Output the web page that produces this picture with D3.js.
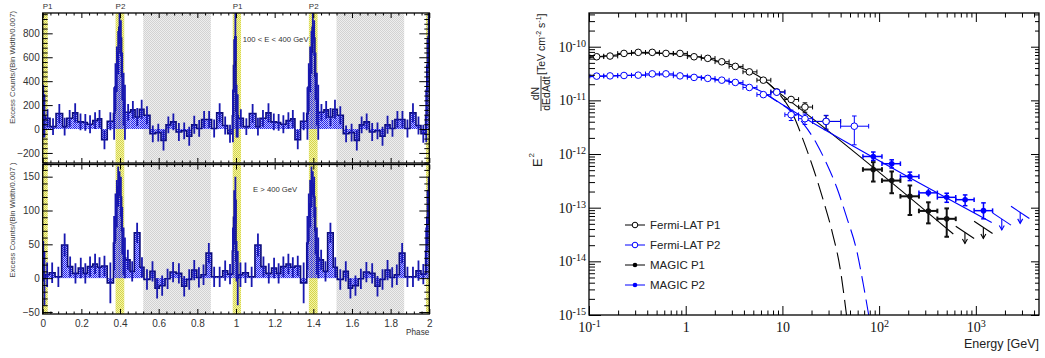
<!DOCTYPE html>
<html><head><meta charset="utf-8">
<script src="https://cdn.jsdelivr.net/npm/d3@7"></script>
<style>
html,body{margin:0;padding:0;background:#fff;}
svg{display:block;}
</style></head><body>
<svg id="c" width="1045" height="358"></svg>
<script>
// ---------------- LEFT: phaseograms (one period, repeated twice) ----------------
const phaseTicks = [0,0.2,0.4,0.6,0.8,1,1.2,1.4,1.6,1.8,2];
const topYTicks = [-200,0,200,400,600,800];
const botYTicks = [-50,0,50,100,150];
const p1Bands = [[0,0.026],[0.983,1.026],[1.983,2]];
const p2Bands = [[0.377,0.422],[1.377,1.422]];
const offBands = [[0.52,0.87],[1.52,1.87]];
const peakLabels = ["P1","P2","P1","P2"];
const peakLabelPhase = [0,0.377,0.983,1.377];

const topEdges = [0,0.006,0.012,0.038,0.069,0.103,0.124,0.155,0.181,0.210,0.231,0.259,0.283,0.305,0.334,0.366,0.373,0.380,0.387,0.394,0.401,0.408,0.415,0.422,0.429,0.455,0.478,0.500,0.524,0.555,0.584,0.612,0.638,0.662,0.690,0.719,0.745,0.771,0.797,0.822,0.848,0.874,0.900,0.931,0.957,0.981,0.987,0.994,1.0];
const topVals = [150,110,90,20,130,20,90,135,60,55,40,70,85,-90,65,130,350,500,640,850,760,440,250,140,140,160,100,165,115,-40,-30,-95,35,60,-25,-15,-60,35,5,80,80,5,135,30,-40,110,530,770];
const topErr = [220,180,75,70,80,75,70,80,70,70,75,70,75,80,75,220,200,190,180,130,150,200,220,230,70,75,75,80,75,70,75,85,70,70,75,70,80,75,70,70,70,75,80,75,75,220,220,200];

const botEdges = [0,0.006,0.012,0.034,0.064,0.098,0.129,0.155,0.184,0.21,0.231,0.259,0.283,0.305,0.334,0.366,0.373,0.380,0.387,0.394,0.401,0.408,0.415,0.422,0.429,0.452,0.474,0.503,0.524,0.555,0.581,0.603,0.633,0.659,0.69,0.719,0.745,0.771,0.797,0.819,0.845,0.874,0.9,0.931,0.957,0.981,0.987,0.994,1.0];
const botVals = [25,0,5,8,2,49,17,7,15,7,17,21,16,18,-7,52,90,110,135,140,120,70,40,30,27,10,67,16,-2,10,-15,-11,-1,9,7,-12,-2,12,1,5,37,2,2,11,6,40,90,115];
const botErr = [30,40,18,15,15,17,15,15,15,15,15,15,15,15,30,40,35,35,30,18,30,35,35,30,15,15,15,15,15,15,15,15,15,15,15,15,15,15,15,15,15,15,15,15,15,35,40,35];

// ---------------- RIGHT: SED ----------------
const fermiE = [0.120,0.165,0.230,0.323,0.451,0.625,0.873,1.22,1.69,2.36,3.26,4.55,6.35,8.73,12.3,17.1,28.3,55.4];
const fermiEdges = [0.102,0.142,0.198,0.275,0.384,0.535,0.745,1.04,1.45,2.01,2.81,3.91,5.45,7.59,10.6,14.7,20.5,40,78];
const fermiP1 = [6.5e-11,6.7e-11,7.5e-11,7.85e-11,7.85e-11,7.5e-11,7.5e-11,6.5e-11,6.07e-11,5.24e-11,4.3e-11,3.4e-11,2.38e-11,1.44e-11,1.04e-11,7.5e-12,4.05e-12];
const fermiP1Err = [0.02,0.02,0.02,0.02,0.02,0.02,0.02,0.03,0.03,0.03,0.04,0.05,0.06,0.12,0.15,0.2,0.28];
const fermiP2 = [2.83e-11,2.86e-11,2.91e-11,2.95e-11,3.12e-11,3.12e-11,2.86e-11,2.68e-11,2.57e-11,2.38e-11,2.16e-11,1.74e-11,1.28e-11,1.42e-11,5.4e-12,4.56e-12,4.05e-12,3.3e-12];
const fermiP2Err = [0.02,0.02,0.02,0.02,0.02,0.02,0.03,0.03,0.03,0.04,0.05,0.06,0.08,0.15,0.22,0.22,0.3,0.55];

const magicE = [87,135,208,323,500,775,1200];
const magicEdges = [68,107,166,258,400,620,960,1490,2310,3580];
const magicP1 = [5.15e-13,3.2e-13,1.63e-13,8.7e-14,6.2e-14];
const magicP1Lo = [3.07e-13,1.86e-13,7.31e-14,5.1e-14,2.87e-14];
const magicP1Hi = [7.06e-13,4.73e-13,2.59e-13,1.26e-13,9.7e-14];
const magicP2 = [9.0e-13,6.6e-13,3.8e-13,1.89e-13,1.56e-13,1.41e-13,8.8e-14];
const magicP2Lo = [7.6e-13,5.5e-13,3.2e-13,1.61e-13,1.26e-13,1.09e-13,6.2e-14];
const magicP2Hi = [1.09e-12,7.8e-13,4.6e-13,2.24e-13,1.86e-13,1.73e-13,1.23e-13];
const ulP1Bin = [5,6];
const ulP1 = [3.46e-14,4.29e-14];
const ulP2Bin = [7,8];
const ulP2 = [6.16e-14,8.18e-14];
const ulIndex = -1.2;

const p1FitE = [0.1,0.165,0.32,0.62,1.2,2.36,4.5,6.3,8.8,12.0,585];
const p1FitF = [6.28e-11,6.84e-11,7.69e-11,7.53e-11,6.7e-11,5.17e-11,3.51e-11,2.49e-11,1.48e-11,9.7e-12,3.23e-14];
const p2FitE = [0.1,0.32,0.62,1.2,2.36,4.5,6.3,8.8,12.0,1460];
const p2FitF = [2.77e-11,2.95e-11,3.0e-11,2.77e-11,2.38e-11,1.84e-11,1.42e-11,9.6e-12,6.83e-12,5.32e-14];
const p1CutE = [6.3,8.8,12.96,16.45,20.87,26.5,33.1,39.4,46];
const p1CutF = [2.49e-11,1.46e-11,5.27e-12,1.80e-12,5.38e-13,1.36e-13,3.23e-14,7.66e-15,1e-15];
const p2CutE = [6.3,8.8,11.98,16.45,22.6,28.7,36.4,46.2,58.7,68.6,78];
const p2CutF = [1.42e-11,9.6e-12,6.54e-12,3.69e-12,1.56e-12,6.58e-13,2.40e-13,6.6e-14,1.57e-14,3.74e-15,1e-15];

const xTickE = [0.1,1,10,100,1000];
const yTickF = [1e-15,1e-14,1e-13,1e-12,1e-11,1e-10];
const legendLabels = ["Fermi-LAT P1","Fermi-LAT P2","MAGIC P1","MAGIC P2"];
const legendColors = ["#000","#0000ff","#000","#0000ff"];
const legendFilled = [false,false,true,true];

// ================= drawing =================
const svg = d3.select("#c");
const defs = svg.append("defs");
function checker(id, c1, c2){
  const p = defs.append("pattern").attr("id",id).attr("width",2).attr("height",2).attr("patternUnits","userSpaceOnUse");
  if (c2) p.append("rect").attr("width",2).attr("height",2).attr("fill",c2);
  p.append("rect").attr("x",0).attr("y",0).attr("width",1).attr("height",1).attr("fill",c1);
  p.append("rect").attr("x",1).attr("y",1).attr("width",1).attr("height",1).attr("fill",c1);
}
checker("yel","#d6d64a","#f3f3a8");
checker("gry","#d2d2d2","#eeeeee");
checker("blu","#2424f0","rgba(110,110,255,0.45)");

const LX0 = 42.7, LX1 = 429.3;
const xL = d3.scaleLinear().domain([0,2]).range([LX0,LX1]);
const leftFont = "Liberation Sans, Arial, sans-serif";

function phasePanel(id, y0, y1, yDomain, edges, vals, errs, yTicks, yMinor, ytitle, label, labelBase, showXLabels){
  const y = d3.scaleLinear().domain(yDomain).range([y1,y0]);
  const g = svg.append("g").attr("font-family", leftFont);
  defs.append("clipPath").attr("id",id).append("rect").attr("x",LX0).attr("y",y0).attr("width",LX1-LX0).attr("height",y1-y0);
  const pg = g.append("g").attr("clip-path",`url(#${id})`);
  pg.selectAll("rect.off").data(offBands).join("rect").attr("x",d=>xL(d[0])).attr("width",d=>xL(d[1])-xL(d[0])).attr("y",y0).attr("height",y1-y0).attr("fill","url(#gry)");
  pg.selectAll("rect.p").data(p1Bands.concat(p2Bands)).join("rect").attr("x",d=>xL(d[0])).attr("width",d=>xL(d[1])-xL(d[0])).attr("y",y0).attr("height",y1-y0).attr("fill","url(#yel)");
  const bins = [];
  [0,1].forEach(off=>vals.forEach((v,i)=>bins.push({x0:edges[i]+off,x1:edges[i+1]+off,v:v,e:errs[i]})));
  pg.append("g").selectAll("rect").data(bins).join("rect")
    .attr("x",d=>xL(d.x0)).attr("width",d=>xL(d.x1)-xL(d.x0))
    .attr("y",d=>y(Math.max(0,d.v))).attr("height",d=>Math.abs(y(d.v)-y(0)))
    .attr("fill","url(#blu)");
  const pts = bins.map(d=>[d.x0,d.v]); pts.push([bins[bins.length-1].x1, bins[bins.length-1].v]);
  pg.append("path").datum(pts).attr("d",d3.line().x(d=>xL(d[0])).y(d=>y(d[1])).curve(d3.curveStepAfter))
    .attr("fill","none").attr("stroke","#0c0c7a").attr("stroke-width",1.6);
  pg.append("g").selectAll("line").data(bins).join("line")
    .attr("x1",d=>xL((d.x0+d.x1)/2)).attr("x2",d=>xL((d.x0+d.x1)/2))
    .attr("y1",d=>y(d.v-d.e)).attr("y2",d=>y(d.v+d.e))
    .attr("stroke","#1818b0").attr("stroke-width",1.8);
  // axes
  const majorMinorY = d3.range(Math.ceil(yDomain[0]/yMinor)*yMinor, yDomain[1], yMinor).filter(v=>!yTicks.includes(v));
  const minorX = d3.range(0,2.0001,0.04).map(v=>+v.toFixed(2)).filter(v=>!phaseTicks.some(t=>Math.abs(t-v)<1e-6));
  const ax = g.append("g").attr("font-size",8.2).attr("fill","#333");
  ax.append("g").attr("transform",`translate(${LX0},0)`).call(d3.axisLeft(y).tickValues(yTicks).tickSizeInner(-10).tickSizeOuter(0).tickPadding(3));
  ax.append("g").attr("transform",`translate(${LX0},0)`).call(d3.axisLeft(y).tickValues(majorMinorY).tickSizeInner(-5).tickSizeOuter(0).tickFormat(""));
  ax.append("g").attr("transform",`translate(${LX1},0)`).call(d3.axisRight(y).tickValues(yTicks).tickSizeInner(-10).tickSizeOuter(0).tickFormat(""));
  ax.append("g").attr("transform",`translate(${LX1},0)`).call(d3.axisRight(y).tickValues(majorMinorY).tickSizeInner(-5).tickSizeOuter(0).tickFormat(""));
  ax.append("g").attr("transform",`translate(0,${y1})`).call(d3.axisBottom(xL).tickValues(phaseTicks).tickSizeInner(-5).tickSizeOuter(0).tickPadding(5.5).tickFormat(showXLabels?d3.format("~g"):""));
  ax.append("g").attr("transform",`translate(0,${y1})`).call(d3.axisBottom(xL).tickValues(minorX).tickSizeInner(-2.5).tickSizeOuter(0).tickFormat(""));
  ax.append("g").attr("transform",`translate(0,${y0})`).call(d3.axisTop(xL).tickValues(phaseTicks).tickSizeInner(-5).tickSizeOuter(0).tickFormat(""));
  ax.append("g").attr("transform",`translate(0,${y0})`).call(d3.axisTop(xL).tickValues(minorX).tickSizeInner(-2.5).tickSizeOuter(0).tickFormat(""));
  ax.selectAll(".domain").remove();
  ax.selectAll("line").attr("stroke","#000");
  ax.selectAll("text").attr("fill","#333").attr("font-family",leftFont);
  g.append("rect").attr("x",LX0).attr("y",y0).attr("width",LX1-LX0).attr("height",y1-y0).attr("fill","none").attr("stroke","#000").attr("stroke-width",1.3);
  g.append("text").attr("transform",`translate(15,${y0-2}) rotate(-90)`).attr("text-anchor","end").attr("font-size",7.7).attr("fill","#444").text(ytitle);
  g.append("text").attr("x",label.x).attr("y",labelBase).attr("font-size",7.7).attr("fill","#333").text(label.t);
  return {y:y, g:g};
}

phasePanel("clipTop",13,163,[-284,970],topEdges,topVals,topErr,topYTicks,40,"Excess Counts/(Bin Width/0.007)",{t:"100 < E < 400 GeV",x:242.7},41.5,false);
phasePanel("clipBot",164.5,314,[-53,168],botEdges,botVals,botErr,botYTicks,10,"Excess Counts/(Bin Width/0.007 )",{t:"E > 400 GeV",x:253},192.3,true);

svg.append("g").attr("font-family",leftFont).attr("font-size",8).attr("fill","#333")
  .selectAll("text").data(peakLabels).join("text")
  .attr("x",(d,i)=>xL(peakLabelPhase[i])).attr("y",8.6).text(d=>d);
svg.append("text").attr("x",LX1).attr("y",335).attr("text-anchor","end").attr("font-family",leftFont).attr("font-size",8.2).attr("fill","#333").text("Phase");

// ---------------- right panel ----------------
const RX0 = 589, RX1 = 1039, RY0 = 13, RY1 = 315;
const xR = d3.scaleLog().domain([0.1,4500]).range([RX0,RX1]);
const yR = d3.scaleLog().domain([1e-15,4.25e-10]).range([RY1,RY0]);
const gR = svg.append("g");
defs.append("clipPath").attr("id","clipR").append("rect").attr("x",RX0).attr("y",RY0).attr("width",RX1-RX0).attr("height",RY1-RY0);
const pR = gR.append("g").attr("clip-path","url(#clipR)");

const lineGen = d3.line().x(d=>xR(d[0])).y(d=>yR(d[1])).curve(d3.curveMonotoneX);
function fitLine(E,F,color,dash){
  pR.append("path").datum(d3.zip(E,F)).attr("d",lineGen).attr("fill","none").attr("stroke",color).attr("stroke-width",1.1).attr("stroke-dasharray",dash||null);
}
fitLine(p1CutE,p1CutF,"#000","17,7");
fitLine(p2CutE,p2CutF,"#0000ff","17,7");
fitLine(p1FitE,p1FitF,"#000");
fitLine(p2FitE,p2FitF,"#0000ff");

function errorPoints(pts,color,sw,r,filled){
  const g = pR.append("g").attr("stroke",color).attr("stroke-width",sw);
  g.selectAll("line.h").data(pts).join("line").attr("x1",d=>xR(d.elo)).attr("x2",d=>xR(d.ehi)).attr("y1",d=>yR(d.f)).attr("y2",d=>yR(d.f));
  g.selectAll("line.v").data(pts).join("line").attr("class","v").attr("x1",d=>xR(d.e)).attr("x2",d=>xR(d.e)).attr("y1",d=>yR(d.flo)).attr("y2",d=>yR(d.fhi));
  const cap = 2.3;
  ["elo","ehi"].forEach(k=>g.selectAll("line.c"+k).data(pts).join("line").attr("class","c"+k).attr("x1",d=>xR(d[k])).attr("x2",d=>xR(d[k])).attr("y1",d=>yR(d.f)-cap).attr("y2",d=>yR(d.f)+cap));
  ["flo","fhi"].forEach(k=>g.selectAll("line.c"+k).data(pts.filter(d=>Math.abs(yR(d.flo)-yR(d.fhi))>8)).join("line").attr("class","c"+k).attr("x1",d=>xR(d.e)-cap).attr("x2",d=>xR(d.e)+cap).attr("y1",d=>yR(d[k])).attr("y2",d=>yR(d[k])));
  g.selectAll("circle").data(pts).join("circle").attr("cx",d=>xR(d.e)).attr("cy",d=>yR(d.f)).attr("r",r)
    .attr("fill",filled?color:"#fff").attr("stroke-width",filled?0:1);
}
errorPoints(fermiP1.map((f,i)=>({e:fermiE[i],f:f,elo:fermiEdges[i],ehi:fermiEdges[i+1],flo:f*(1-fermiP1Err[i]),fhi:f*(1+fermiP1Err[i])})),"#000",1,3.3,false);
errorPoints(fermiP2.map((f,i)=>({e:fermiE[i],f:f,elo:fermiEdges[i],ehi:fermiEdges[i+1],flo:f*(1-fermiP2Err[i]),fhi:f*(1+fermiP2Err[i])})),"#0000ff",1,3.3,false);
errorPoints(magicP1.map((f,i)=>({e:magicE[i],f:f,elo:magicEdges[i],ehi:magicEdges[i+1],flo:magicP1Lo[i],fhi:magicP1Hi[i]})),"#111",2,2.8,true);
errorPoints(magicP2.map((f,i)=>({e:magicE[i],f:f,elo:magicEdges[i],ehi:magicEdges[i+1],flo:magicP2Lo[i],fhi:magicP2Hi[i]})),"#0000ff",1.5,2.8,true);

function upperLimits(bins,vals,color){
  const g = pR.append("g").attr("stroke",color).attr("fill","none").attr("stroke-width",1.1);
  const d = bins.map((b,i)=>{const lo=magicEdges[b],hi=magicEdges[b+1],c=Math.sqrt(lo*hi);return {lo,hi,c,v:vals[i]};});
  g.selectAll("line.s").data(d).join("line").attr("class","s")
    .attr("x1",u=>xR(u.lo)).attr("y1",u=>yR(u.v*Math.pow(u.lo/u.c,ulIndex)))
    .attr("x2",u=>xR(u.hi)).attr("y2",u=>yR(u.v*Math.pow(u.hi/u.c,ulIndex)));
  g.selectAll("line.a").data(d).join("line").attr("class","a")
    .attr("x1",u=>xR(u.c)).attr("x2",u=>xR(u.c)).attr("y1",u=>yR(u.v)).attr("y2",u=>yR(u.v)+11);
  g.selectAll("path").data(d).join("path")
    .attr("d",u=>{const x=xR(u.c),y=yR(u.v)+11;return `M${x-2.5},${y-4.5}L${x},${y}L${x+2.5},${y-4.5}`;});
}
upperLimits(ulP1Bin,ulP1,"#000");
upperLimits(ulP2Bin,ulP2,"#0000ff");

// axes
const serif = "Liberation Serif, Times New Roman, serif";
const minorE = []; [-1,0,1,2,3].forEach(p=>{for(let k=2;k<=9;k++){const v=k*Math.pow(10,p); if(v<=4500) minorE.push(v);}});
const minorF = []; [-15,-14,-13,-12,-11,-10].forEach(p=>{for(let k=2;k<=9;k++){const v=k*Math.pow(10,p); if(v<=4.25e-10) minorF.push(v);}});
const axR = gR.append("g");
function supLabels(sel, isX){
  sel.selectAll(".tick text").each(function(d){
    const t = d3.select(this); const e = Math.round(Math.log10(d));
    t.text(null);
    if (isX && (e===0||e===1)) { t.append("tspan").text(e===0?"1":"10"); return; }
    t.append("tspan").text("10");
    t.append("tspan").attr("dy","-0.5em").attr("font-size","0.72em").text(e<0?"-"+(-e):String(e));
  });
}
const yl = axR.append("g").attr("transform",`translate(${RX0},0)`).call(d3.axisLeft(yR).tickValues(yTickF).tickSizeInner(-12).tickSizeOuter(0).tickPadding(3));
supLabels(yl,false);
axR.append("g").attr("transform",`translate(${RX0},0)`).call(d3.axisLeft(yR).tickValues(minorF).tickSizeInner(-6).tickSizeOuter(0).tickFormat(""));
axR.append("g").attr("transform",`translate(${RX1},0)`).call(d3.axisRight(yR).tickValues(yTickF).tickSizeInner(-8).tickSizeOuter(0).tickFormat(""));
axR.append("g").attr("transform",`translate(${RX1},0)`).call(d3.axisRight(yR).tickValues(minorF).tickSizeInner(-4).tickSizeOuter(0).tickFormat(""));
const xl = axR.append("g").attr("transform",`translate(0,${RY1})`).call(d3.axisBottom(xR).tickValues(xTickE).tickSizeInner(-9).tickSizeOuter(0).tickPadding(7));
supLabels(xl,true);
axR.append("g").attr("transform",`translate(0,${RY1})`).call(d3.axisBottom(xR).tickValues(minorE).tickSizeInner(-4.5).tickSizeOuter(0).tickFormat(""));
axR.append("g").attr("transform",`translate(0,${RY0})`).call(d3.axisTop(xR).tickValues(xTickE).tickSizeInner(-9).tickSizeOuter(0).tickFormat(""));
axR.append("g").attr("transform",`translate(0,${RY0})`).call(d3.axisTop(xR).tickValues(minorE).tickSizeInner(-4.5).tickSizeOuter(0).tickFormat(""));
axR.selectAll(".domain").remove();
axR.selectAll("line").attr("stroke","#000");
axR.selectAll("text").attr("font-family",serif).attr("font-size",14).attr("fill","#111");
gR.append("rect").attr("x",RX0).attr("y",RY0).attr("width",RX1-RX0).attr("height",RY1-RY0).attr("fill","none").attr("stroke","#000").attr("stroke-width",1.3);

// legend
const sans = "Liberation Sans, Arial, sans-serif";
const lg = gR.append("g").attr("font-family",sans);
legendLabels.forEach((t,i)=>{
  const yy = 225 + 20*i;
  lg.append("line").attr("x1",625).attr("x2",645).attr("y1",yy).attr("y2",yy).attr("stroke",legendColors[i]).attr("stroke-width",1);
  lg.append("circle").attr("cx",635).attr("cy",yy).attr("r",legendFilled[i]?2.3:2.8).attr("fill",legendFilled[i]?legendColors[i]:"#fff").attr("stroke",legendColors[i]).attr("stroke-width",legendFilled[i]?0:1);
  lg.append("text").attr("x",650).attr("y",yy+4).attr("font-size",11.5).attr("fill","#222").text(t);
});

// axis titles
gR.append("text").attr("x",RX1).attr("y",348).attr("text-anchor","end").attr("font-family",sans).attr("font-size",12.5).attr("fill","#222").text("Energy [GeV]");
const yt = gR.append("g").attr("transform","translate(542,0) rotate(-90)").attr("font-family",sans).attr("fill","#222");
yt.append("text").attr("x",-167).attr("y",0).attr("font-size",13).text("E");
yt.append("text").attr("x",-157.5).attr("y",-8).attr("font-size",8).text("2");
yt.append("text").attr("x",-93.5).attr("y",-3.5).attr("text-anchor","middle").attr("font-size",10.5).text("dN");
yt.append("line").attr("x1",-111).attr("x2",-76).attr("y1",-1).attr("y2",-1).attr("stroke","#222").attr("stroke-width",0.9);
yt.append("text").attr("x",-93.5).attr("y",8).attr("text-anchor","middle").attr("font-size",10.5).text("dEdAdt");
const br = yt.append("text").attr("x",-75).attr("y",3).attr("font-size",10.5);
br.append("tspan").text("[TeV cm");
br.append("tspan").attr("dy",-4).attr("font-size",7).text("-2");
br.append("tspan").attr("dy",4).text(" s");
br.append("tspan").attr("dy",-4).attr("font-size",7).text("-1");
br.append("tspan").attr("dy",4).text("]");
</script></body></html>
